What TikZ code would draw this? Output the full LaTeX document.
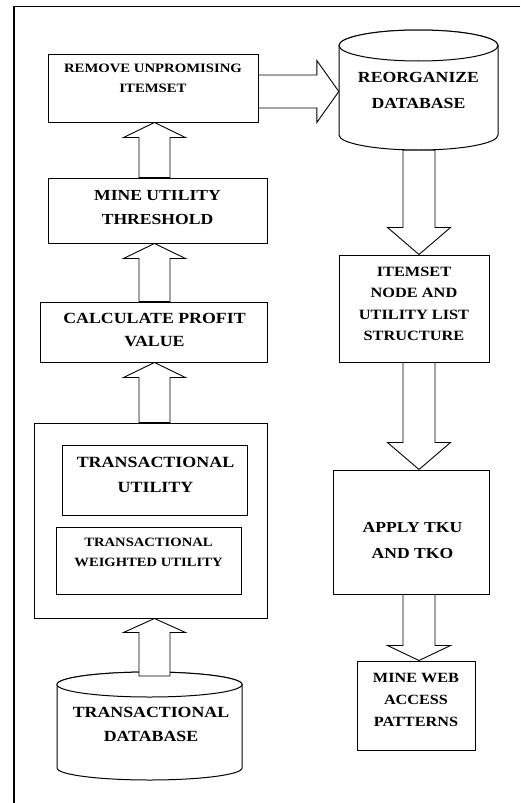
\documentclass[tikz,border=0pt]{standalone}
\usepackage{fontspec}
\setmainfont{Liberation Serif}[FakeStretch=1.15]
\usetikzlibrary{calc}
\tikzset{
  box/.style={draw, line width=1pt, inner sep=0pt, fill=white},
  txt/.style={align=center, inner sep=0pt},
  fs/.style 2 args={font=\bfseries\fontsize{#1}{#2}\selectfont},
  blk/.style={draw, fill=white, line width=0.9pt, line join=miter},
  cyl/.style={draw, fill=white, line width=1pt},
  frame/.style={draw, line width=1.4pt}
}
% vertical block arrow: #1 column, #2 base point, #3 tip point, #4 head length (signed), #5 shaft half width, #6 head half width
\newcommand{\blkvert}[6]{%
  \draw[blk] ($(#1 |- #2)+(-#5,0)$) -- ($(#1 |- #3)+(-#5,#4)$) -- ($(#1 |- #3)+(-#6,#4)$)
    -- (#1 |- #3) -- ($(#1 |- #3)+(#6,#4)$) -- ($(#1 |- #3)+(#5,#4)$) -- ($(#1 |- #2)+(#5,0)$) -- cycle;}
\begin{document}
\begin{tikzpicture}[x=1pt,y=-1pt]
\useasboundingbox (0,0) rectangle (520,803);
% frame
\coordinate (fl) at (14,6.5);
\coordinate (fr) at (520,6.5);
\coordinate (fb) at (14,803);
\draw[frame] (fr) -- (fl) -- (fb);

\coordinate (colL) at (154.5,0);
\coordinate (colR) at (419,0);
\coordinate (rowT) at (0,91.5);

% left column boxes
\node[box, minimum width=210pt, minimum height=68pt] (remove) at (153,88) {};
\node[txt, fs={12.8}{20}] (removet) at (153,78) {REMOVE UNPROMISING\\ITEMSET};

\node[box, minimum width=219pt, minimum height=65pt] (mine) at (157.5,210.5) {};
\node[txt, fs={15.3}{24}] (minet) at (157.5,208) {MINE UTILITY\\THRESHOLD};

\node[box, minimum width=227pt, minimum height=60pt] (calc) at (153.5,332) {};
\node[txt, fs={15.5}{23}] (calct) at (154.5,329.5) {CALCULATE PROFIT\\VALUE};

\node[box, minimum width=233pt, minimum height=195pt] (outer) at (150.5,520.5) {};
\node[box, minimum width=185pt, minimum height=70pt] (tu) at (154.5,480) {};
\node[txt, fs={15.6}{25}] (tut) at (155.5,474.5) {TRANSACTIONAL\\UTILITY};
\node[box, minimum width=185pt, minimum height=67pt] (twu) at (148.5,560.5) {};
\node[txt, fs={12.7}{20}] (twut) at (148.5,552) {TRANSACTIONAL\\WEIGHTED UTILITY};

% transactional database cylinder
\draw[cyl] (57,684.5) -- (57,768) arc[start angle=180, end angle=360, x radius=92.5pt, y radius=12pt] -- (242,684.5) arc[start angle=0, end angle=180, x radius=92.5pt, y radius=12.5pt] -- cycle;
\draw[cyl] (149.5,684.5) ellipse[x radius=92.5pt, y radius=12.5pt];
\node[txt, fs={15.5}{24}, minimum width=185pt] (db) at (151,724) {TRANSACTIONAL\\DATABASE};
\coordinate (dbtop) at (154.5,676);

% reorganize database cylinder
\draw[cyl] (339,45.5) -- (339,135) arc[start angle=180, end angle=360, x radius=79.5pt, y radius=15pt] -- (498,45.5) arc[start angle=0, end angle=180, x radius=79.5pt, y radius=15.5pt] -- cycle;
\draw[cyl] (418.5,45.5) ellipse[x radius=79.5pt, y radius=15.5pt];
\node[txt, fs={15.4}{26}, minimum width=159pt, minimum height=120pt] (reorg) at (418.5,90) {REORGANIZE\\DATABASE};

% right column boxes
\node[box, minimum width=150pt, minimum height=107pt] (items) at (414,308.5) {};
\node[txt, fs={14.2}{21.3}] (itemst) at (414,304) {ITEMSET\\NODE AND\\UTILITY LIST\\STRUCTURE};

\node[box, minimum width=156pt, minimum height=124pt] (apply) at (411,532) {};
\node[txt, fs={15.3}{26}] (applyt) at (412.5,541) {APPLY TKU\\AND TKO};

\node[box, minimum width=118pt, minimum height=89pt] (mineweb) at (416,705.5) {};
\node[txt, fs={14.1}{22}] (minewebt) at (416,700) {MINE WEB\\ACCESS\\PATTERNS};

% block arrows, left column (up)
\blkvert{colL}{dbtop}{outer.south}{14}{15.5}{31}
\blkvert{colL}{outer.north}{calc.south}{15}{15.5}{31}
\blkvert{colL}{calc.north}{mine.south}{15}{15.5}{31}
\blkvert{colL}{mine.north}{remove.south}{15}{15.5}{31}

% right arrow
\draw[blk] ($(rowT -| remove.east)+(0,-16.5)$) -- ($(rowT -| reorg.west)+(-22,-16.5)$) -- ($(rowT -| reorg.west)+(-22,-31)$)
  -- (rowT -| reorg.west) -- ($(rowT -| reorg.west)+(-22,31)$) -- ($(rowT -| reorg.west)+(-22,16.5)$) -- ($(rowT -| remove.east)+(0,16.5)$) -- cycle;

% block arrows, right column (down)
\blkvert{colR}{reorg.south}{items.north}{-27}{16}{31.5}
\blkvert{colR}{items.south}{apply.north}{-27}{16}{31.5}
\blkvert{colR}{apply.south}{mineweb.north}{-15}{16}{31.5}
\end{tikzpicture}
\end{document}
